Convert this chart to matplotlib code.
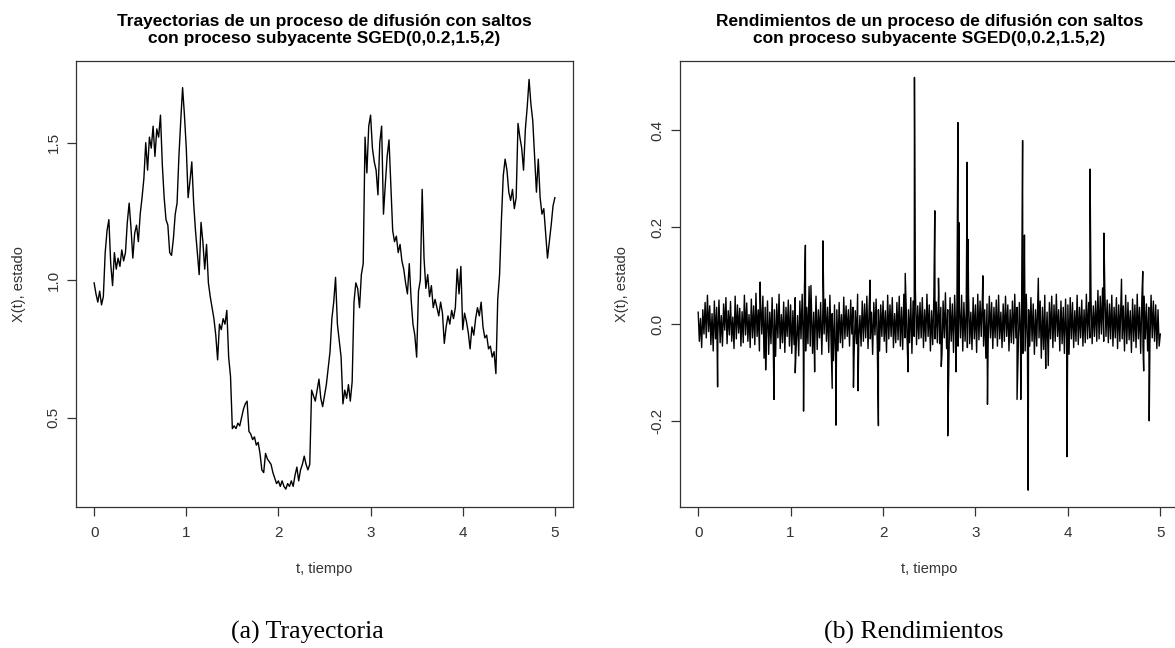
import numpy as np
import matplotlib
matplotlib.use("Agg")
import matplotlib.pyplot as plt

plt.rcParams['font.family'] = ['Liberation Sans', 'DejaVu Sans']

# --- data ---
# (a) trajectory, one value every 0.02 time units from t=0 to t=5
tray = [
    0.99, 0.95, 0.92, 0.96, 0.91, 0.94, 1.10, 1.18, 1.22, 1.06,
    0.98, 1.10, 1.04, 1.08, 1.05, 1.11, 1.07, 1.10, 1.21, 1.28,
    1.19, 1.08, 1.17, 1.20, 1.14, 1.24, 1.30, 1.37, 1.50, 1.40,
    1.52, 1.48, 1.56, 1.45, 1.55, 1.52, 1.60, 1.42, 1.30, 1.22,
    1.20, 1.10, 1.09, 1.15, 1.24, 1.28, 1.45, 1.58, 1.70, 1.60,
    1.48, 1.30, 1.36, 1.43, 1.28, 1.18, 1.10, 1.02, 1.21, 1.14,
    1.04, 1.13, 0.99, 0.94, 0.90, 0.86, 0.80, 0.71, 0.84, 0.82,
    0.86, 0.84, 0.89, 0.72, 0.65, 0.46, 0.47, 0.46, 0.48, 0.47,
    0.50, 0.53, 0.55, 0.56, 0.45, 0.44, 0.42, 0.43, 0.40, 0.41,
    0.37, 0.31, 0.30, 0.37, 0.35, 0.34, 0.33, 0.30, 0.28, 0.26,
    0.27, 0.25, 0.27, 0.25, 0.24, 0.26, 0.25, 0.27, 0.25, 0.29,
    0.32, 0.27, 0.31, 0.33, 0.36, 0.33, 0.31, 0.33, 0.60, 0.58,
    0.56, 0.60, 0.64, 0.57, 0.54, 0.58, 0.62, 0.68, 0.74, 0.86,
    0.92, 1.01, 0.84, 0.78, 0.72, 0.55, 0.60, 0.57, 0.62, 0.56,
    0.63, 0.92, 0.99, 0.97, 0.90, 1.02, 1.06, 1.52, 1.39, 1.56,
    1.60, 1.48, 1.43, 1.40, 1.31, 1.50, 1.56, 1.24, 1.35, 1.45,
    1.51, 1.34, 1.18, 1.14, 1.16, 1.10, 1.13, 1.07, 1.04, 0.99,
    0.95, 1.06, 0.93, 0.84, 0.80, 0.72, 0.96, 1.00, 1.33, 1.08,
    0.97, 1.02, 0.94, 0.98, 0.90, 0.93, 0.90, 0.87, 0.92, 0.88,
    0.77, 0.83, 0.87, 0.84, 0.89, 0.86, 0.90, 1.04, 0.95, 1.05,
    0.82, 0.88, 0.85, 0.81, 0.75, 0.83, 0.80, 0.86, 0.90, 0.87,
    0.92, 0.83, 0.79, 0.80, 0.75, 0.76, 0.72, 0.74, 0.66, 0.93,
    1.02, 1.22, 1.38, 1.44, 1.40, 1.32, 1.29, 1.33, 1.26, 1.30,
    1.57, 1.52, 1.48, 1.40, 1.55, 1.63, 1.73, 1.64, 1.58, 1.45,
    1.32, 1.44, 1.30, 1.24, 1.26, 1.17, 1.08, 1.14, 1.20, 1.27,
    1.30,
]

# (b) returns: background band (thousandths), 16 values per 0.2 time units
rend_band = [
    25, -35, 12, -48, 30, -20, 45, -28, 60, -15, 38, -42, 22, -55, 48, -30,
    35, -25, 50, -38, 18, -45, 42, -12, 55, -40, 28, -22, 47, -35, 15, -50,
    58, -30, 40, -18, 33, -45, 26, -38, 60, -22, 44, -35, 20, -48, 52, -28,
    38, -42, 64, -25, 30, -55, 45, -20, 58, -70, 35, -30, 48, -62, 25, -40,
    55, -45, 30, -66, 42, -28, 62, -50, 20, -38, 46, -58, 35, -25, 50, -45,
    40, -60, 28, -42, 55, -35, 18, -65, 48, -30, 62, -48, 80, -55, 35, -40,
    78, -45, 40, -60, 25, -38, 58, -52, 30, -28, 45, -62, 38, -20, 52, -35,
    35, -58, 60, -40, 22, -75, 40, -85, 30, -55, 45, -38, 20, -48, 56, -30,
    38, -25, 30, -45, 50, -20, 35, -58, 28, -40, 62, -30, 18, -45, 48, -35,
    42, -28, 58, -50, 35, -30, 25, -62, 45, -22, 52, -40, 30, -55, 40, -25,
    48, -35, 28, -58, 60, -30, 40, -25, 55, -48, 22, -38, 45, -32, 58, -45,
    35, -52, 62, -28, 40, -45, 30, -38, 55, -60, 48, -25, 70, -42, 38, -30,
    45, -28, 55, -48, 30, -35, 62, -25, 40, -55, 28, -42, 58, -30, 46, -38,
    60, -40, 35, -62, 48, -28, 65, -50, 30, -75, 55, -35, 42, -58, 60, -30,
    52, -45, 38, -28, 60, -55, 45, -35, 30, -48, 62, -40, 25, -52, 55, -30,
    40, -58, 62, -32, 48, -25, 55, -45, 30, -70, 42, -35, 58, -28, 45, -50,
    35, -28, 50, -45, 60, -30, 25, -48, 42, -35, 58, -25, 40, -55, 30, -38,
    48, -40, 62, -28, 35, -52, 45, -30, 58, -60, 40, -55, 62, -48, 30, -45,
    55, -35, 42, -62, 30, -45, 58, -28, 48, -70, 35, -52, 60, -40, 25, -85,
    45, -30, 58, -48, 40, -35, 62, -25, 30, -55, 48, -40, 35, -60, 52, -38,
    40, -62, 55, -30, 45, -48, 28, -35, 60, -42, 35, -28, 50, -45, 30, -38,
    62, -30, 45, -28, 55, -40, 38, -25, 48, -35, 70, -30, 58, -20, 75, -35,
    65, -25, 50, -38, 42, -30, 60, -45, 35, -28, 55, -50, 40, -35, 62, -30,
    38, -55, 60, -40, 45, -32, 28, -58, 52, -35, 40, -48, 62, -30, 35, -60,
    50, -45, 58, -30, 42, -55, 35, -40, 60, -28, 48, -35, 40, -50, 30, -45,
    -20,
]

# (b) returns: jumps
salto_t = [0.21, 0.67, 0.73, 0.82, 1.05, 1.14, 1.16, 1.22, 1.26, 1.35,
           1.45, 1.49, 1.68, 1.73, 1.86, 1.95, 2.24, 2.27, 2.34, 2.56,
           2.60, 2.63, 2.70, 2.79, 2.81, 2.82, 2.91, 2.92, 3.08, 3.13,
           3.45, 3.49, 3.51, 3.53, 3.57, 3.68, 3.76, 3.99, 4.24, 4.39,
           4.58, 4.81, 4.82, 4.88]
salto_v = [-0.129, 0.087, -0.094, -0.155, -0.100, -0.179, 0.163, 0.080, -0.098, 0.172,
           -0.132, -0.208, -0.130, -0.137, 0.091, -0.209, 0.105, -0.098, 0.509, 0.234,
           0.095, -0.087, -0.230, -0.098, 0.416, 0.210, 0.334, 0.175, 0.100, -0.165,
           -0.155, -0.155, 0.379, 0.184, -0.342, 0.095, -0.091, -0.273, 0.320, 0.188,
           0.093, 0.109, -0.096, -0.199]

titulo_a = "Trayectorias de un proceso de difusión con saltos\ncon proceso subyacente SGED(0,0.2,1.5,2)"
titulo_b = "Rendimientos de un proceso de difusión con saltos\ncon proceso subyacente SGED(0,0.2,1.5,2)"

t_tray = np.linspace(0, 5, len(tray))
t_band = np.linspace(0, 5, len(rend_band))
t_all = np.concatenate([t_band, salto_t])
v_all = np.concatenate([np.array(rend_band) / 1000.0, salto_v])
orden = np.argsort(t_all, kind="stable")

W, H = 1175, 648
fig = plt.figure(figsize=(W / 100, H / 100), dpi=100)
gris = "#333333"

ax1 = fig.add_axes([75.7 / W, 1 - 507 / H, 497.6 / W, 446.3 / H])
ax2 = fig.add_axes([679.7 / W, 1 - 507 / H, 499.1 / W, 446.3 / H])

ax1.plot(t_tray, tray, color="black", lw=1.0)
ax1.set_ylim(0.175, 1.798)
ax1.set_yticks([0.5, 1.0, 1.5])
ax1.set_yticklabels(["0.5", "1.0", "1.5"])

ax2.plot(t_all[orden], v_all[orden], color="black", lw=1.0)
ax2.set_ylim(-0.3767, 0.5435)
ax2.set_yticks([-0.2, 0.0, 0.2, 0.4])
ax2.set_yticklabels(["-0.2", "0.0", "0.2", "0.4"])

for ax, titulo, ylx in [(ax1, titulo_a, -0.114), (ax2, titulo_b, -0.116)]:
    ax.set_xlim(-0.2, 5.2)
    ax.set_xticks([0, 1, 2, 3, 4, 5])
    for s in ax.spines.values():
        s.set_color(gris)
        s.set_linewidth(0.9)
    ax.tick_params(axis="both", direction="out", length=6.2, width=0.9,
                   color=gris, labelcolor=gris, labelsize=11)
    ax.tick_params(axis="x", pad=7.5)
    ax.tick_params(axis="y", pad=4.5)
    for lab in ax.get_yticklabels():
        lab.set_rotation(90)
        lab.set_va("center")
    ax.set_xlabel("t, tiempo", fontsize=10.5, color=gris, va="center")
    ax.xaxis.set_label_coords(0.5, -0.139)
    ax.set_ylabel("X(t), estado", fontsize=10.5, color=gris, va="center")
    ax.yaxis.set_label_coords(ylx, 0.5)
    ax.set_title(titulo, fontsize=12.5, fontweight="bold", pad=13, linespacing=1.12)

fig.text(307 / W, 1 - 632 / H, "(a) Trayectoria", family="Liberation Serif",
         fontsize=18.5, ha="center", va="center")
fig.text(914 / W, 1 - 632 / H, "(b) Rendimientos", family="Liberation Serif",
         fontsize=18.5, ha="center", va="center")

fig.savefig("out.png", dpi=100)
